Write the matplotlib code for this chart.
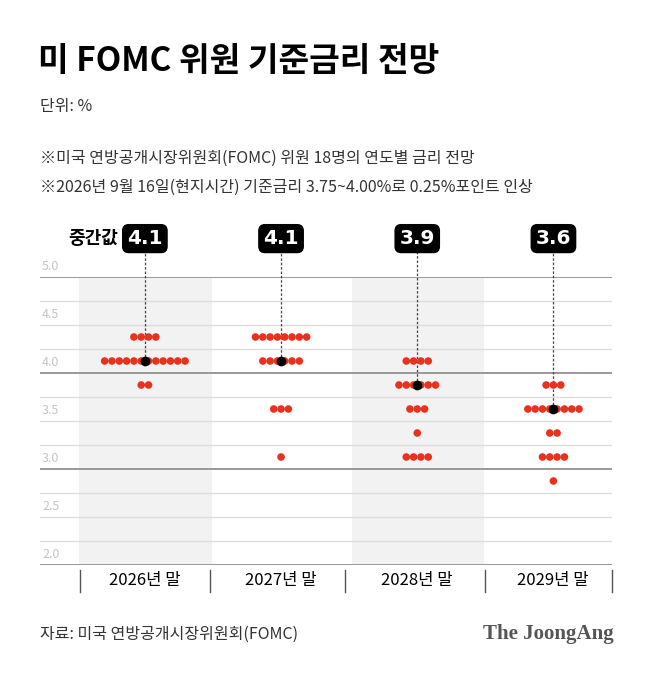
import matplotlib
matplotlib.use("Agg")
import matplotlib.pyplot as plt

plt.rcParams['font.family'] = ['Noto Sans CJK KR', 'DejaVu Sans']

years = ["2026년 말", "2027년 말", "2028년 말", "2029년 말"]
medians = [4.1, 4.1, 3.9, 3.6]
median_rows = [4.125, 4.125, 3.875, 3.625]
rates = [4.375, 4.125, 3.875, 3.625, 3.375, 3.125, 2.875]
counts = [
    [4, 12, 2, 0, 0, 0, 0],
    [8, 6, 0, 3, 0, 1, 0],
    [0, 4, 6, 3, 1, 4, 0],
    [0, 0, 3, 8, 2, 4, 1],
]
yticks = [5.0, 4.5, 4.0, 3.5, 3.0, 2.5, 2.0]

W, H = 658, 674
fig = plt.figure(figsize=(W/100, H/100), dpi=100)
def fx(p): return p / W
def fy(p): return 1 - p / H

ax = fig.add_axes([fx(40), fy(565), fx(612-40), (565-277)/H])
xl, xr = -0.77, 3.43
ax.set_xlim(xl, xr)
ax.set_ylim(2.0, 5.0)
ax.axis('off')
unit = 136.0

for i in (0, 2):
    ax.axvspan(i - 0.48, i + 0.49, color='#f2f2f2', zorder=0, lw=0)
v = 2.0
while v <= 5.001:
    major = abs(v - round(v)) < 1e-6
    ax.axhline(v, color='#999999' if major else '#dddddd', lw=1.4 if major else 1.0, zorder=1)
    v += 0.25
for t in yticks:
    ax.text(xl + 2/unit, t + 0.04, f"{t:.1f}", color='#c4c4c4', fontsize=9, va='bottom', ha='left')

sp = 7.3 / unit
for i in range(4):
    for r, c in zip(rates, counts[i]):
        xs = [i + (k - (c - 1) / 2) * sp for k in range(c)]
        ax.scatter(xs, [r] * c, s=30, color='#e8321e', edgecolor='none', zorder=3)
    ax.plot([i, i], [median_rows[i], 5.33], ls=(0, (2, 1.5)), color='#444444', lw=0.9, zorder=2, clip_on=False)
    ax.scatter([i], [median_rows[i]], s=36, color='black', zorder=4)
    ax.text(i, 5.4, f"{medians[i]:.1f}", ha='center', va='center', color='white', fontsize=14.5,
            fontweight='bold', zorder=6, clip_on=False, family='DejaVu Sans',
            bbox=dict(boxstyle='round,pad=0.22,rounding_size=0.3', fc='black', ec='black'))
ax.text(-0.2, 5.4, "중간값", ha='right', va='center', fontsize=13, fontweight='bold', clip_on=False)

for xp in [80, 210, 345, 485, 612]:
    fig.add_artist(plt.Line2D([fx(xp), fx(xp)], [fy(570), fy(592)], color='#555555', lw=1))
for i, y in enumerate(years):
    fig.text(fx(40 + (i - xl) * unit), fy(581), y, ha='center', va='center', fontsize=12)

fig.text(fx(38), fy(62), "미 FOMC 위원 기준금리 전망", fontsize=24, fontweight='bold', va='center')
fig.text(fx(40), fy(106), "단위: %", fontsize=11.5, color='#333333', va='center')
fig.text(fx(40), fy(158), "※미국 연방공개시장위원회(FOMC) 위원 18명의 연도별 금리 전망", fontsize=11.5, color='#333333', va='center')
fig.text(fx(40), fy(187), "※2026년 9월 16일(현지시간) 기준금리 3.75~4.00%로 0.25%포인트 인상", fontsize=11.5, color='#333333', va='center')
fig.text(fx(40), fy(634), "자료: 미국 연방공개시장위원회(FOMC)", fontsize=11.5, color='#333333', va='center')
fig.text(fx(614), fy(634), "The JoongAng", fontsize=15, fontweight='bold', family='Liberation Serif',
         color='#555555', ha='right', va='center')

fig.savefig("out.png", dpi=100)
